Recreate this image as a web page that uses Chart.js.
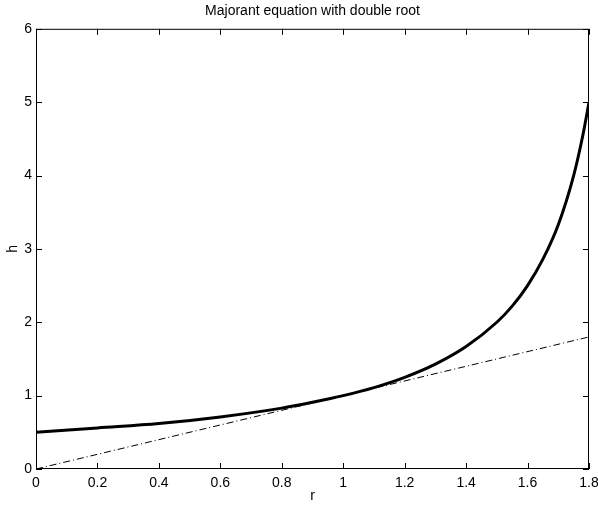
<!DOCTYPE html>
<html>
<head>
<meta charset="utf-8">
<script src="https://cdn.jsdelivr.net/npm/chart.js@4.4.0/dist/chart.umd.min.js"></script>
<style>
  html, body { margin: 0; padding: 0; background: #fff; }
  #wrap { width: 598px; height: 505px; }
</style>
</head>
<body>
<div id="wrap"><canvas id="majorant"></canvas></div>
<script>
// values
let rValues = [0, 0.2, 0.4, 0.6, 0.8, 0.9, 1.0, 1.1, 1.2, 1.3, 1.4, 1.5, 1.55, 1.6, 1.65, 1.7, 1.75, 1.78, 1.8];
let hValues = [0.5, 0.56, 0.62, 0.71, 0.83, 0.91, 1.0, 1.11, 1.25, 1.43, 1.67, 2.0, 2.22, 2.5, 2.86, 3.33, 4.0, 4.55, 5.0];

let lineR = [0, 1.8];
let lineH = [0, 1.8];

let xTicks = [0, 0.2, 0.4, 0.6, 0.8, 1, 1.2, 1.4, 1.6, 1.8];
let yTicks = [0, 1, 2, 3, 4, 5, 6];

const font = { family: 'Liberation Sans, Arial, sans-serif', size: 14 };

// box round the plot with ticks pointing inwards, like the original
const boxTicks = {
  id: 'boxTicks',
  afterDraw(chart) {
    const { ctx, chartArea: a, scales } = chart;
    ctx.save();
    ctx.strokeStyle = '#000';
    ctx.lineWidth = 1;
    ctx.strokeRect(a.left + 0.5, a.top + 0.5, a.right - a.left - 1, a.bottom - a.top - 1);
    ctx.beginPath();
    scales.x.ticks.forEach(t => {
      const px = Math.round(scales.x.getPixelForValue(t.value)) + 0.5;
      ctx.moveTo(px, a.bottom); ctx.lineTo(px, a.bottom - 6);
      ctx.moveTo(px, a.top); ctx.lineTo(px, a.top + 6);
    });
    scales.y.ticks.forEach(t => {
      const py = Math.round(scales.y.getPixelForValue(t.value)) + 0.5;
      ctx.moveTo(a.left, py); ctx.lineTo(a.left + 6, py);
      ctx.moveTo(a.right, py); ctx.lineTo(a.right - 6, py);
    });
    ctx.stroke();
    ctx.restore();
  }
};

let ctx = document.getElementById('majorant').getContext('2d');

let chart = new Chart(ctx, {
  type: 'scatter',
  data: {
    datasets: [{
      label: 'h',
      data: rValues.map((r, i) => ({ x: r, y: hValues[i] })),
      showLine: true,
      borderColor: '#000',
      borderWidth: 3,
      pointRadius: 0,
      cubicInterpolationMode: 'monotone'
    }, {
      label: 'r',
      data: lineR.map((r, i) => ({ x: r, y: lineH[i] })),
      showLine: true,
      borderColor: '#000',
      borderWidth: 1,
      borderDash: [7, 3, 1, 3],
      pointRadius: 0
    }]
  },
  options: {
    responsive: true,
    maintainAspectRatio: false,
    animation: false,
    layout: { padding: { left: 0, right: 9, top: 0, bottom: 0 } },
    plugins: {
      legend: { display: false },
      tooltip: { enabled: false },
      title: {
        display: true,
        fullSize: false,
        text: 'Majorant equation with double root',
        color: '#000',
        font: { family: font.family, size: 14, weight: 'normal' },
        padding: { top: 3, bottom: 9 }
      }
    },
    scales: {
      x: {
        type: 'linear',
        min: 0, max: 1.8,
        afterBuildTicks: s => { s.ticks = xTicks.map(v => ({ value: v })); },
        afterFit: s => { s.height = 36; s.paddingLeft = 0; s.paddingRight = 0; },
        grid: { display: false, drawTicks: false },
        border: { display: false },
        ticks: {
          color: '#000', font: font, padding: 6, maxRotation: 0, autoSkip: false,
          callback: v => String(+v.toFixed(1))
        },
        title: { display: true, text: 'r', color: '#000', font: font, padding: 0 }
      },
      y: {
        type: 'linear',
        min: 0, max: 6,
        afterBuildTicks: s => { s.ticks = yTicks.map(v => ({ value: v })); },
        afterFit: s => { s.width = 36; s.paddingTop = 0; s.paddingBottom = 0; },
        grid: { display: false, drawTicks: false },
        border: { display: false },
        ticks: { color: '#000', font: font, padding: 4 },
        title: { display: true, text: 'h', color: '#000', font: font, padding: { top: 5, bottom: 0 } }
      }
    }
  },
  plugins: [boxTicks]
});
</script>
</body>
</html>
